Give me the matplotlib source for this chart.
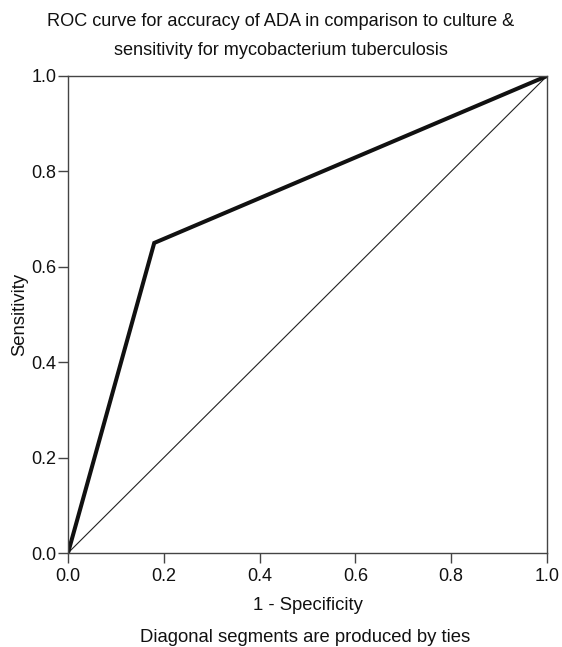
import matplotlib
matplotlib.use("Agg")
import matplotlib.pyplot as plt

# ROC points (1 - specificity, sensitivity)
fpr = [0.0, 0.18, 1.0]
tpr = [0.0, 0.65, 1.0]
ref_line = [0.0, 1.0]
ticks = [0.0, 0.2, 0.4, 0.6, 0.8, 1.0]

plt.rcParams["font.family"] = ["Liberation Sans", "DejaVu Sans"]

W, H = 562, 647
fig = plt.figure(figsize=(W / 100, H / 100), dpi=100)
ax = fig.add_axes([68 / W, 1 - 553 / H, 479 / W, 477 / H])

ax.plot(ref_line, ref_line, color="#222222", linewidth=0.8)
ax.plot(fpr, tpr, color="#111111", linewidth=2.9, solid_joinstyle="miter")

ax.set_xlim(0, 1)
ax.set_ylim(0, 1)
ax.set_xticks(ticks)
ax.set_yticks(ticks)
ax.set_xticklabels([f"{t:.1f}" for t in ticks])
ax.set_yticklabels([f"{t:.1f}" for t in ticks])
ax.tick_params(direction="out", length=7.5, width=1, color="#444444",
               labelsize=13, labelcolor="#111111")
ax.tick_params(axis="x", pad=3)
ax.tick_params(axis="y", pad=1)
for s in ax.spines.values():
    s.set_color("#444444")
    s.set_linewidth(1)

ax.set_xlabel("1 - Specificity", fontsize=13.3, labelpad=9, color="#111111")
ax.set_ylabel("Sensitivity", fontsize=13.3, labelpad=2, color="#111111")

# title centred on the figure, note centred under the axes
fig.text(0.5, 1 - 36 / H,
         "ROC curve for accuracy of ADA in comparison to culture &\n"
         "sensitivity for mycobacterium tuberculosis",
         ha="center", va="center", fontsize=13.1, linespacing=1.9,
         color="#111111")
fig.text(305 / W, 1 - 638 / H, "Diagonal segments are produced by ties",
         ha="center", va="center", fontsize=13.3, color="#111111")

fig.savefig("out.png", dpi=100)
